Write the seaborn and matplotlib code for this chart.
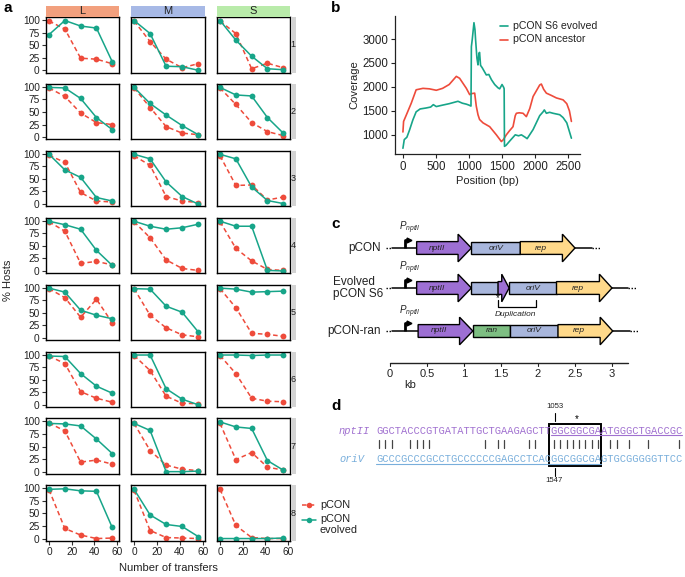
import matplotlib
matplotlib.use("Agg")
import matplotlib.pyplot as plt
import numpy as np
import pandas as pd
import seaborn as sns
from matplotlib.patches import Rectangle, Polygon
from matplotlib.lines import Line2D

W, H, DPI = 685, 577, 100

# ---------------- panel a data ----------------
transfers = [0, 14, 28, 42, 56]
size_labels = ["L", "M", "S"]
replicate_labels = ["1", "2", "3", "4", "5", "6", "7", "8"]
series_labels = ["pCON", "pCON evolved"]

pcon_L = [[98, 82, 24, 22, 13], [98, 81, 48, 29, 25], [97, 83, 23, 6, 4], [98, 79, 15, 19, 12],
          [98, 80, 41, 77, 30], [97, 82, 26, 13, 5], [97, 81, 19, 23, 15], [97, 20, 7, 0, 1]]
evol_L = [[71, 99, 88, 84, 17], [99, 98, 77, 39, 15], [99, 68, 53, 13, 6], [99, 92, 83, 41, 11],
          [99, 91, 55, 45, 38], [97, 96, 62, 37, 23], [96, 95, 91, 65, 36], [98, 99, 95, 94, 22]]
pcon_M = [[98, 57, 22, 5, 13], [98, 59, 21, 8, 5], [96, 77, 15, 6, 3], [98, 66, 22, 5, 1],
          [98, 45, 20, 6, 2], [98, 68, 17, 3, 2], [96, 42, 13, 5, 2], [96, 16, 2, 1, 0]]
evol_M = [[99, 73, 8, 7, 0], [99, 67, 44, 23, 5], [99, 90, 44, 15, 0], [99, 89, 83, 86, 93],
          [98, 97, 63, 51, 12], [99, 99, 32, 11, 0], [96, 82, 0, 0, 1], [98, 47, 28, 24, 4]]
pcon_S = [[98, 73, 3, 14, 5], [98, 65, 29, 11, 3], [96, 37, 38, 8, 14], [98, 45, 20, 3, 1],
          [98, 60, 9, 7, 3], [98, 62, 13, 7, 6], [96, 24, 38, 9, 3], [98, 26, 2, 0, 0]]
evol_S = [[99, 60, 28, 3, 1], [99, 84, 82, 39, 8], [99, 90, 34, 7, 1], [99, 89, 89, 1, 0],
          [99, 97, 91, 92, 93], [99, 99, 98, 99, 99], [99, 89, 86, 22, 3], [0, 0, 0, 0, 1]]

# ---------------- panel b data ----------------
evolved_pos = [0, 20, 60, 100, 150, 200, 260, 350, 420, 460, 505, 600, 700, 833, 900, 960, 1000, 1030,
               1036, 1050, 1075, 1090, 1100, 1120, 1136, 1150, 1160, 1175, 1200, 1262, 1300, 1340, 1389,
               1440, 1464, 1500, 1525, 1532, 1537, 1560, 1616, 1700, 1750, 1793, 1850, 1880, 1970, 2070,
               2121, 2140, 2171, 2220, 2272, 2373, 2424, 2480, 2550]
evolved_cov = [720, 900, 950, 1100, 1310, 1480, 1540, 1560, 1580, 1630, 1590, 1620, 1650, 1700, 1660, 1640,
               1620, 1600, 2840, 3000, 3340, 3200, 2980, 2600, 2460, 2700, 2720, 2450, 2400, 2250, 2260,
               2150, 2050, 1980, 1960, 2050, 1990, 1960, 760, 780, 870, 1000, 980, 1000, 950, 920, 1110,
               1400, 1480, 1520, 1450, 1470, 1450, 1420, 1360, 1250, 930]
ancestor_pos = [0, 10, 50, 126, 200, 303, 400, 505, 600, 700, 808, 858, 960, 1010, 1040, 1086, 1110, 1136,
                1160, 1212, 1313, 1414, 1490, 1520, 1565, 1610, 1666, 1700, 1717, 1760, 1818, 1868, 1920,
                1970, 2070, 2095, 2130, 2171, 2250, 2323, 2424, 2480, 2520, 2550]
ancestor_cov = [1060, 1280, 1410, 1660, 1940, 1970, 1960, 1930, 1970, 2050, 2220, 2180, 1970, 1840, 1860,
                1870, 1600, 1420, 1320, 1250, 1170, 1000, 860, 900, 1000, 1080, 1170, 1400, 1450, 1460,
                1450, 1380, 1550, 1800, 2040, 2060, 1950, 1870, 1820, 1770, 1730, 1650, 1500, 1280]
coverage_labels = ["pCON S6 evolved", "pCON ancestor"]

# ---------------- panel c data ----------------
scale_ticks = [0, 0.5, 1, 1.5, 2, 2.5, 3]
scale_tick_labels = ["0", "0.5", "1", "1.5", "2", "2.5", "3"]
construct_names = ["pCON", "Evolved\npCON S6", "pCON-ran"]

# ---------------- panel d data ----------------
nptII_seq = "GGCTACCCGTGATATTGCTGAAGAGCTTGGCGGCGAATGGGCTGACCGC"
oriV_seq = "GCCCGCCCGCCTGCCCCCCGAGCCTCACGGCGGCGAGTGCGGGGGTTCC"
match_positions = [0, 1, 2, 5, 6, 7, 8, 17, 19, 20, 24, 25, 28, 29, 30, 31, 32, 33, 34, 35, 37, 38, 40, 43, 48]
box_start, box_end = 28, 36
pos_top, pos_bottom = "1053", "1547"

RED = "#EE4B3B"
TEAL = "#17A589"
PURPLE = "#9D6FD3"
BLUEGRAY = "#A8B6DC"
YELLOW = "#FFD98A"
GREEN = "#7DBE82"

sns.set_theme(style="white")
plt.rcParams['font.family'] = ['Liberation Sans', 'DejaVu Sans']
plt.rcParams['mathtext.fontset'] = 'custom'
plt.rcParams['mathtext.it'] = 'Liberation Sans:italic'
plt.rcParams['mathtext.rm'] = 'Liberation Sans'

fig = plt.figure(figsize=(W / DPI, H / DPI), dpi=DPI)


def ax_px(x0, y0, x1, y1):
    return fig.add_axes([x0 / W, 1 - y1 / H, (x1 - x0) / W, (y1 - y0) / H])


def fx(x):
    return x / W


def fy(y):
    return 1 - y / H


def rect_px(x0, y0, x1, y1, color, ec="none", lw=0):
    fig.add_artist(Rectangle((fx(x0), fy(y1)), (x1 - x0) / W, (y1 - y0) / H,
                             transform=fig.transFigure, facecolor=color, edgecolor=ec, lw=lw))


# ================= panel a =================
pcon_all = {"L": pcon_L, "M": pcon_M, "S": pcon_S}
evol_all = {"L": evol_L, "M": evol_M, "S": evol_S}
strip_colors = {"L": "#F2A07E", "M": "#A7B9E6", "S": "#B9EBAA"}
col_x = [(46, 119), (131, 205), (217, 290)]
row_h = 55.5
pitch = 66.9

for r in range(8):
    top = 17 + pitch * r
    bot = top + row_h
    for c, s in enumerate(size_labels):
        x0, x1 = col_x[c]
        ax = ax_px(x0, top, x1, bot)
        df = pd.DataFrame({
            "transfer": transfers * 2,
            "value": pcon_all[s][r] + evol_all[s][r],
            "plasmid": [series_labels[0]] * 5 + [series_labels[1]] * 5,
        })
        sns.lineplot(data=df, x="transfer", y="value", hue="plasmid", style="plasmid",
                     palette={series_labels[0]: RED, series_labels[1]: TEAL},
                     dashes={series_labels[0]: (3, 2), series_labels[1]: ""},
                     markers={series_labels[0]: "o", series_labels[1]: "o"},
                     markersize=4.2, markeredgewidth=0, linewidth=1.1, ax=ax, legend=False)
        ax.set_xlim(-2.7, 62)
        ax.set_ylim(-4.5, 106)
        ax.set_xlabel("")
        ax.set_ylabel("")
        ax.set_xticks([0, 20, 40, 60])
        ax.set_yticks([0, 25, 50, 75, 100])
        for sp in ax.spines.values():
            sp.set_color("black")
            sp.set_linewidth(1.0)
        ax.tick_params(axis="both", direction="out", length=3, width=0.8, color="#333333",
                       labelsize=7.3, pad=1.5, labelcolor="#222222")
        ax.tick_params(axis="y", left=(c == 0), labelleft=(c == 0))
        ax.tick_params(axis="x", bottom=(r == 7), labelbottom=(r == 7))
        if c == 2:
            rect_px(290.5, top, 296, bot, "#D3D3D3")
            fig.text(fx(293.3), fy((top + bot) / 2), replicate_labels[r], fontsize=6.5,
                     ha="center", va="center", color="#222222")

for c, s in enumerate(size_labels):
    x0, x1 = col_x[c]
    rect_px(x0, 6, x1, 16.5, strip_colors[s])
    fig.text(fx((x0 + x1) / 2), fy(11.5), s, fontsize=8, ha="center", va="center", color="#222222")

fig.text(fx(8), fy(280), "% Hosts", rotation=90, fontsize=8, ha="center", va="center", color="#222222")
fig.text(fx(168), fy(568), "Number of transfers", fontsize=8, ha="center", va="center", color="#222222")

# legend a
fig.add_artist(Line2D([fx(302), fx(316)], [fy(505), fy(505)], transform=fig.transFigure,
                      color=RED, lw=1.1, dashes=(3, 2)))
fig.add_artist(Line2D([fx(309)], [fy(505)], transform=fig.transFigure, color=RED,
                      marker="o", markersize=4, markeredgewidth=0))
fig.text(fx(320), fy(505), series_labels[0], fontsize=7.8, ha="left", va="center", color="#222222")
fig.add_artist(Line2D([fx(302), fx(316)], [fy(520), fy(520)], transform=fig.transFigure,
                      color=TEAL, lw=1.1))
fig.add_artist(Line2D([fx(309)], [fy(520)], transform=fig.transFigure, color=TEAL,
                      marker="o", markersize=4, markeredgewidth=0))
fig.text(fx(320), fy(514), "pCON\nevolved", fontsize=7.8, ha="left", va="top", color="#222222",
         linespacing=1.1)

# ================= panel b =================
axb = ax_px(395, 16, 580, 154)
df_b = pd.concat([
    pd.DataFrame({"pos": ancestor_pos, "cov": ancestor_cov, "sample": coverage_labels[1]}),
    pd.DataFrame({"pos": evolved_pos, "cov": evolved_cov, "sample": coverage_labels[0]}),
])
sns.lineplot(data=df_b, x="pos", y="cov", hue="sample",
             palette={coverage_labels[0]: TEAL, coverage_labels[1]: RED},
             linewidth=1.2, ax=axb, legend=False, sort=True)
axb.set_xlim(-120, 2680)
axb.set_ylim(600, 3480)
axb.set_xticks([0, 500, 1000, 1500, 2000, 2500])
axb.set_yticks([1000, 1500, 2000, 2500, 3000])
axb.spines["top"].set_visible(False)
axb.spines["right"].set_visible(False)
for sp in ["left", "bottom"]:
    axb.spines[sp].set_color("#222222")
    axb.spines[sp].set_linewidth(0.9)
axb.tick_params(axis="both", direction="out", length=3, width=0.8, left=True, bottom=True,
                labelsize=8.3, pad=2, labelcolor="#222222", color="#222222")
axb.set_xlabel("Position (bp)", fontsize=8, labelpad=2, color="#222222")
axb.set_ylabel("Coverage", fontsize=8, labelpad=2, color="#222222")

for i, (lab, colr) in enumerate([(coverage_labels[0], TEAL), (coverage_labels[1], RED)]):
    yy = 26 + 13.5 * i
    fig.add_artist(Line2D([fx(500), fx(508)], [fy(yy), fy(yy)], transform=fig.transFigure,
                          color=colr, lw=1.2))
    fig.text(fx(513), fy(yy), lab, fontsize=7.6, ha="left", va="center", color="#222222")

# ================= panel c =================
KB0, KBPX = 390, 74.0
axc = ax_px(330, 215, 685, 395)
axc.set_xlim((330 - KB0) / KBPX, (685 - KB0) / KBPX)
axc.set_ylim(395, 215)
axc.axis("off")
BH, HH, HEAD = 6.4, 13.8, 0.17


def gene_arrow(x0, x1, yc, color, label=None, head=HEAD):
    xh = x1 - head
    verts = [(x0, yc - BH), (xh, yc - BH), (xh, yc - HH), (x1, yc), (xh, yc + HH),
             (xh, yc + BH), (x0, yc + BH)]
    axc.add_patch(Polygon(verts, closed=True, facecolor=color, edgecolor="black", lw=1.0, zorder=3))
    if label:
        axc.text((x0 + xh) / 2, yc, label, fontsize=6, style="italic", ha="center", va="center",
                 color="#222222", zorder=4)


def gene_box(x0, x1, yc, color, label=None):
    axc.add_patch(Rectangle((x0, yc - BH), x1 - x0, 2 * BH, facecolor=color, edgecolor="black",
                            lw=1.0, zorder=3))
    if label:
        axc.text((x0 + x1) / 2, yc, label, fontsize=6, style="italic", ha="center", va="center",
                 color="#222222", zorder=4)


def backbone(a0, a1, b0, b1, b2, yc):
    axc.plot([-0.05, 0.03], [yc, yc], color="black", lw=1.0, ls=(0, (1, 1.2)), zorder=1)
    axc.plot([0.03, a1], [yc, yc], color="black", lw=1.1, zorder=1)
    axc.plot([b0, b1], [yc, yc], color="black", lw=1.1, zorder=1)
    axc.plot([b1, b2], [yc, yc], color="black", lw=1.0, ls=(0, (1, 1.2)), zorder=1)


def promoter(yc, ylab):
    axc.plot([0.2, 0.2, 0.245], [yc, yc - 8, yc - 8], color="black", lw=2.0, zorder=2,
             solid_capstyle="butt")
    axc.plot([0.255], [yc - 8], marker=">", color="black", markersize=3.5, zorder=2)
    axc.text(0.12, ylab, r"$P_{nptII}$", fontsize=7, ha="left", va="center", color="#222222")


# pCON
y1 = 248
backbone(0.03, 0.36, 2.5, 2.73, 2.84, y1)
promoter(y1, 228)
gene_arrow(0.36, 1.1, y1, PURPLE, "nptII", head=0.18)
gene_box(1.1, 1.76, y1, BLUEGRAY, "oriV")
gene_arrow(1.76, 2.5, y1, YELLOW, "rep")
axc.text(-0.12, y1, construct_names[0], fontsize=8.5, ha="right", va="center", color="#222222")

# Evolved
y2 = 288
backbone(0.03, 0.36, 3.0, 3.22, 3.33, y2)
promoter(y2, 268)
gene_arrow(0.36, 1.1, y2, PURPLE, "nptII", head=0.18)
gene_box(1.1, 1.46, y2, BLUEGRAY)
gene_arrow(1.46, 1.61, y2, PURPLE, head=0.1)
gene_box(1.61, 2.25, y2, BLUEGRAY, "oriV")
gene_arrow(2.25, 3.0, y2, YELLOW, "rep")
axc.text(-0.77, y2, construct_names[1], fontsize=8.5, ha="left", va="center", color="#222222",
         linespacing=1.05)
axc.text(1.46, 298.5, "*", fontsize=7, ha="center", va="center", color="black")
axc.plot([1.46, 1.46, 1.97, 1.97], [300, 307, 307, 300], color="black", lw=0.9)
axc.text(1.69, 314.5, "Duplication", fontsize=6, style="italic", ha="center", va="center",
         color="#222222")

# pCON-ran
y3 = 331
backbone(0.03, 0.38, 3.01, 3.24, 3.35, y3)
promoter(y3, 312)
gene_arrow(0.38, 1.12, y3, PURPLE, "nptII", head=0.18)
gene_box(1.12, 1.62, y3, GREEN, "ran")
gene_box(1.62, 2.27, y3, BLUEGRAY, "oriV")
gene_arrow(2.27, 3.01, y3, YELLOW, "rep")
axc.text(-0.12, y3, construct_names[2], fontsize=8.5, ha="right", va="center", color="#222222")

# scale
ys = 363
axc.plot([0, 3.22], [ys, ys], color="#222222", lw=1.0)
for t, lab in zip(scale_ticks, scale_tick_labels):
    axc.plot([t, t], [ys, ys + 2.5], color="#222222", lw=0.8)
    axc.text(t, 374, lab, fontsize=8, ha="center", va="center", color="#222222")
axc.text(0.27, 385, "kb", fontsize=8, ha="center", va="center", color="#222222")

# ================= panel d =================
CW = 6.25
SX = 376.0
FS = CW / 0.6 * 72 / DPI
PURPLE_D = "#A070D0"
BLUE_D = "#78AEDB"
fig.text(fx(339), fy(431), "nptII", fontsize=FS, family="Liberation Mono", style="italic",
         color=PURPLE_D, ha="left", va="center")
fig.text(fx(339), fy(459), "oriV", fontsize=FS, family="Liberation Mono", style="italic",
         color=BLUE_D, ha="left", va="center")
fig.text(fx(SX), fy(431), nptII_seq, fontsize=FS, family="Liberation Mono", color=PURPLE_D,
         ha="left", va="center")
fig.text(fx(SX), fy(459), oriV_seq, fontsize=FS, family="Liberation Mono", color=BLUE_D,
         ha="left", va="center")
# underlines
fig.add_artist(Line2D([fx(SX + box_start * CW), fx(SX + len(nptII_seq) * CW)], [fy(435), fy(435)],
                      transform=fig.transFigure, color=PURPLE_D, lw=0.8))
fig.add_artist(Line2D([fx(SX), fx(SX + box_end * CW)], [fy(463.5), fy(463.5)],
                      transform=fig.transFigure, color=BLUE_D, lw=0.8))
for p in match_positions:
    xx = SX + (p + 0.5) * CW
    fig.add_artist(Line2D([fx(xx), fx(xx)], [fy(439.5), fy(448)], transform=fig.transFigure,
                          color="#444444", lw=0.9))
bx0 = SX + box_start * CW - 2
bx1 = SX + box_end * CW
fig.add_artist(Rectangle((fx(bx0), fy(466)), (bx1 - bx0) / W, (466 - 424) / H,
                         transform=fig.transFigure, facecolor="none", edgecolor="black", lw=1.4))
xt = SX + box_start * CW + 3.5
fig.add_artist(Line2D([fx(xt), fx(xt)], [fy(412.5), fy(421)], transform=fig.transFigure,
                      color="black", lw=0.8))
fig.add_artist(Line2D([fx(xt), fx(xt)], [fy(467.5), fy(476)], transform=fig.transFigure,
                      color="black", lw=0.8))
fig.text(fx(xt), fy(407), pos_top, fontsize=5.6, ha="center", va="center", color="#222222")
fig.text(fx(xt), fy(481), pos_bottom, fontsize=5.6, ha="center", va="center", color="#222222")
fig.text(fx(577), fy(419), "*", fontsize=7, ha="center", va="center", color="black")

# panel letters
for lab, x, y in [("a", 3, 8), ("b", 331, 8), ("c", 331, 224), ("d", 331, 406)]:
    fig.text(fx(x), fy(y), lab, fontsize=11, fontweight="bold", ha="left", va="center", color="black")

fig.savefig("out.png", dpi=DPI)
